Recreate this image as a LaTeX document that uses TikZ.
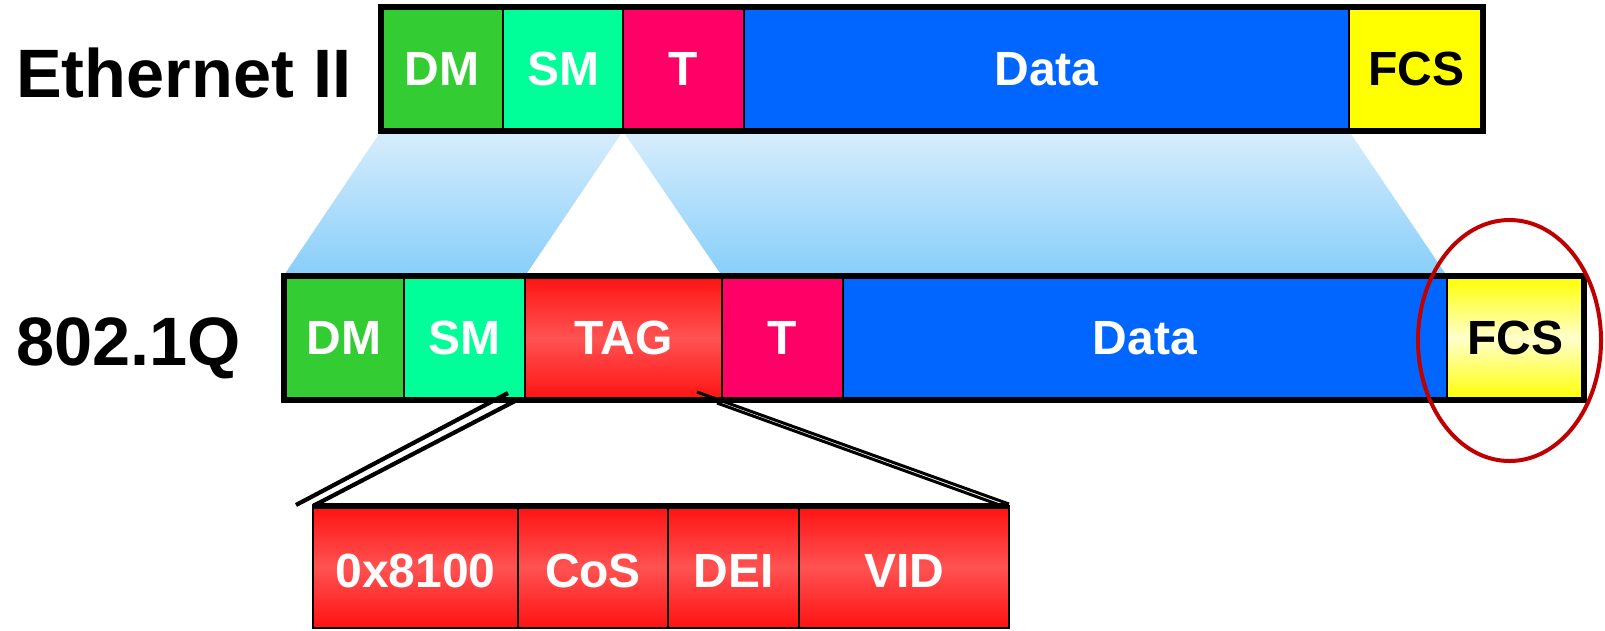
\documentclass[tikz,border=0pt]{standalone}
\usepackage{fontspec}
\setmainfont{Liberation Sans}

\definecolor{dmgreen}{RGB}{51,204,51}
\definecolor{smgreen}{RGB}{0,255,153}
\definecolor{typepink}{RGB}{255,0,102}
\definecolor{datablue}{RGB}{0,102,255}
\definecolor{fcsyellow}{RGB}{255,255,0}
\definecolor{fcspale}{RGB}{255,255,205}
\definecolor{tagred}{RGB}{255,18,18}
\definecolor{taglight}{RGB}{255,82,82}
\definecolor{fantop}{RGB}{216,237,252}
\definecolor{fanbottom}{RGB}{135,206,250}
\definecolor{ringred}{RGB}{192,0,0}

\pgfdeclarelayer{behind}
\pgfsetlayers{behind,main}

\tikzset{
  field/.style={draw=black, line width=2pt, rectangle, inner sep=0pt, outer sep=0pt,
    text=white, font=\fontsize{48}{58}\selectfont\bfseries},
  barrow/.style={field, minimum height=124pt},
  tagrow/.style={field, minimum height=122pt, text height=40pt, text depth=0pt},
  redshade/.style={top color=tagred, bottom color=tagred, middle color=taglight},
  yellowshade/.style={top color=fcsyellow, bottom color=fcsyellow, middle color=fcspale},
  frame/.style={draw=black, line width=6pt},
  title/.style={inner sep=0pt, anchor=base west, font=\fontsize{68.5}{82}\selectfont\bfseries},
  fan/.style={top color=fantop, bottom color=fanbottom, draw=none},
  tagline/.style={draw=black, line width=4.2pt},
  tagthin/.style={draw=black, line width=3pt},
  ring/.style={draw=ringred, line width=4pt}
}

\begin{document}
\begin{tikzpicture}[x=1pt, y=-1pt]
\useasboundingbox (0,0) rectangle (1605,630);

% frame titles
\node[title] (tEth) at (16,97) {Ethernet II};
\node[title] (tQ) at (16,365) {802.1Q};

% Ethernet II fields
\node[barrow, fill=dmgreen, minimum width=122pt] (eDM) at (442,69) {DM};
\node[barrow, fill=smgreen, minimum width=120pt] (eSM) at (563,69) {SM};
\node[barrow, fill=typepink, minimum width=121pt] (eT) at (683.5,69) {T};
\node[barrow, fill=datablue, minimum width=605pt] (eData) at (1046.5,69) {Data};
\node[barrow, fill=fcsyellow, text=black, minimum width=134pt] (eFCS) at (1416,69) {FCS};

% 802.1Q fields
\node[barrow, fill=dmgreen, minimum width=120.5pt] (qDM) at (343.75,338) {DM};
\node[barrow, fill=smgreen, minimum width=121pt] (qSM) at (464.5,338) {SM};
\node[barrow, redshade, minimum width=197pt] (qTAG) at (623.5,338) {TAG};
\node[barrow, fill=typepink, minimum width=120.5pt] (qT) at (782.25,338) {T};
\node[barrow, fill=datablue, minimum width=604.5pt] (qData) at (1144.75,338) {Data};
\node[barrow, yellowshade, text=black, minimum width=137pt] (qFCS) at (1515.5,338) {FCS};

% fans from the old header into the tagged header, kept behind the fields
\begin{pgfonlayer}{behind}
\path[fan] (eDM.south west) -- (eSM.south east) -- (qSM.north east) -- (qDM.north west) -- cycle;
\path[fan] (eT.south west) -- (eData.south east) -- (qData.north east) -- (qT.north west) -- cycle;
\end{pgfonlayer}

% outer frames
\draw[frame] (eDM.north west) rectangle (eFCS.south east);
\draw[frame] (qDM.north west) rectangle (qFCS.south east);

% tag breakdown
\node[tagrow, redshade, minimum width=205pt] (dType) at (415.5,567) {0x8100};
\node[tagrow, redshade, minimum width=150pt] (dCoS) at (593,567) {CoS};
\node[tagrow, redshade, minimum width=131pt] (dDEI) at (733.5,567) {DEI};
\node[tagrow, redshade, minimum width=210pt] (dVID) at (904,567) {VID};
\draw[frame] (dType.north west) -- (dVID.north east);

% zoom lines from the tag down to its breakdown
\coordinate (lTopA) at (508,393);
\coordinate (lEndA) at (296,505);
\coordinate (lTopB) at (515,401);
\coordinate (rTopA) at (697,392);
\coordinate (rEndA) at (1009,504);
\coordinate (rTopB) at (717,403);
\coordinate (rEndB) at (1001,505.5);
\draw[tagline] (lTopA) -- (lEndA);
\draw[tagline] (lTopB) -- (dType.north west);
\draw[tagthin] (rTopA) -- (rEndA);
\draw[tagthin] (rTopB) -- (rEndB);

% highlight ring around the recomputed FCS
\draw[ring] (1509.5,340.5) ellipse [x radius=91.5pt, y radius=120.5pt];
\end{tikzpicture}
\end{document}
